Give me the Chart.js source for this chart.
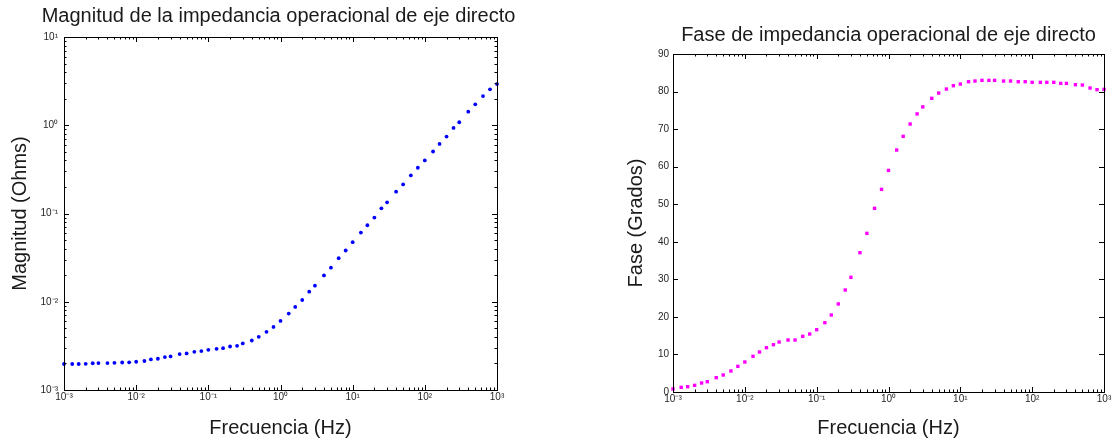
<!DOCTYPE html>
<html>
<head>
<meta charset="utf-8">
<script src="https://cdn.jsdelivr.net/npm/chart.js@4"></script>
<style>
  html, body { margin: 0; padding: 0; background: #fff; }
  #wrap { position: relative; width: 1114px; height: 444px; }
  canvas { position: absolute; top: 0; }
  #magChart { left: 0; }
  #phaseChart { left: 557px; }
</style>
</head>
<body>
<div id="wrap">
  <canvas id="magChart" width="557" height="444"></canvas>
  <canvas id="phaseChart" width="557" height="444"></canvas>
</div>
<script>
// ===========================================================================
// DATA
// ===========================================================================

// Frequencies in Hz, about 10 points per decade from 1 mHz to 1 kHz.
const frequencies = [
  0.001, 0.0013, 0.0016, 0.002, 0.0025, 0.003, 0.004, 0.005, 0.0064, 0.008,
  0.01, 0.013, 0.016, 0.02, 0.025, 0.03, 0.04, 0.05, 0.064, 0.08,
  0.1, 0.13, 0.16, 0.2, 0.25, 0.3, 0.4, 0.5, 0.64, 0.8,
  1, 1.3, 1.6, 2, 2.5, 3, 4, 5, 6.4, 8,
  10, 13, 16, 20, 25, 30, 40, 50, 64, 80,
  100, 130, 160, 200, 250, 300, 400, 500, 640, 800,
  1000
];

// Magnitude of the d-axis operational impedance (Ohms).
const magnitude = [
  0.00197, 0.00197, 0.00197, 0.00198, 0.00201, 0.00202, 0.00202, 0.00203, 0.00205, 0.00206,
  0.00209, 0.00213, 0.00222, 0.00226, 0.00236, 0.00240, 0.00255, 0.00260, 0.00271, 0.00276,
  0.00285, 0.00293, 0.00298, 0.00311, 0.00317, 0.00337, 0.00364, 0.00400, 0.00456, 0.00519,
  0.00607, 0.00734, 0.00873, 0.01047, 0.0130, 0.0152, 0.0199, 0.0243, 0.0312, 0.0381,
  0.0473, 0.0608, 0.0736, 0.0898, 0.1146, 0.1337, 0.1766, 0.2137, 0.270, 0.330,
  0.399, 0.504, 0.615, 0.744, 0.932, 1.081, 1.426, 1.725, 2.14, 2.55,
  2.93
];

// Phase of the d-axis operational impedance (degrees).
const phase = [
  0.80, 1.24, 1.42, 1.77, 2.40, 2.75, 3.82, 4.53, 5.59, 6.83,
  7.99, 9.50, 10.65, 11.80, 12.60, 13.31, 13.84, 13.84, 14.82, 15.44,
  16.59, 18.46, 20.50, 23.45, 27.16, 30.53, 37.10, 42.24, 48.90, 53.96,
  59.00, 64.43, 68.07, 71.35, 74.05, 75.92, 78.19, 79.60, 80.67, 81.56,
  82.00, 82.62, 82.80, 82.98, 82.98, 82.98, 82.80, 82.80, 82.62, 82.62,
  82.45, 82.45, 82.45, 82.45, 82.18, 82.18, 81.82, 81.74, 80.94, 80.50,
  80.58
];

// Axis limits and tick labels.
const freqRange = [0.001, 1000];
const magRange = [0.001, 10];
const phaseTicks = [0, 10, 20, 30, 40, 50, 60, 70, 80, 90];

// ===========================================================================
// SMALL HELPERS
// ===========================================================================

const FONT = "'Liberation Sans', Arial, sans-serif";
const SUP = { "-": "\u207B", "0": "\u2070", "1": "\u00B9", "2": "\u00B2", "3": "\u00B3" };

// Is this value an exact power of ten?
function isDecade(v) {
  const l = Math.log10(v);
  return Math.abs(l - Math.round(l)) < 1e-6;
}

// "10" followed by the exponent in superscript characters.
function decadeLabel(v) {
  if (!isDecade(v)) return "";
  const e = String(Math.round(Math.log10(v)));
  return "10" + e.split("").map((c) => SUP[c]).join("");
}

// Ticks 1..9 x 10^n between min and max, like a MATLAB log axis.
function logTicks(scale) {
  const ticks = [];
  const lo = Math.round(Math.log10(scale.min));
  const hi = Math.round(Math.log10(scale.max));
  for (let e = lo; e <= hi; e++) {
    for (let m = 1; m <= 9; m++) {
      const v = Number((m * Math.pow(10, e)).toPrecision(6));
      if (v >= scale.min * 0.999999 && v <= scale.max * 1.000001) ticks.push({ value: v });
    }
  }
  scale.ticks = ticks;
}

// Draw the box round the plot and the inward tick marks on all four sides.
const boxPlugin = {
  id: "boxTicks",
  afterDraw(chart) {
    const { ctx, chartArea: a, scales } = chart;
    ctx.save();
    ctx.strokeStyle = "#000";
    ctx.lineWidth = 1;
    ctx.beginPath();
    scales.x.ticks.forEach((t) => {
      const p = Math.round(scales.x.getPixelForValue(t.value)) + 0.5;
      const len = isDecade(t.value) ? 5 : 2.5;
      ctx.moveTo(p, a.bottom); ctx.lineTo(p, a.bottom - len);
      ctx.moveTo(p, a.top); ctx.lineTo(p, a.top + len);
    });
    const logY = scales.y.type === "logarithmic";
    scales.y.ticks.forEach((t) => {
      const p = Math.round(scales.y.getPixelForValue(t.value)) + 0.5;
      const len = !logY || isDecade(t.value) ? 5 : 2.5;
      ctx.moveTo(a.left, p); ctx.lineTo(a.left + len, p);
      ctx.moveTo(a.right, p); ctx.lineTo(a.right - len, p);
    });
    ctx.stroke();
    ctx.strokeRect(Math.round(a.left) + 0.5, Math.round(a.top) + 0.5,
      Math.round(a.right - a.left), Math.round(a.bottom - a.top));
    ctx.restore();
  },
};

// Options shared by both frequency axes.
function freqAxis(titlePadBottom) {
  return {
    type: "logarithmic",
    min: freqRange[0],
    max: freqRange[1],
    afterBuildTicks: logTicks,
    grid: { display: false, drawTicks: false },
    border: { display: false },
    ticks: {
      autoSkip: false, maxRotation: 0, minRotation: 0, padding: 1,
      color: "#262626", font: { family: FONT, size: 10 },
      callback: (v) => decadeLabel(v),
    },
    title: {
      display: true, text: "Frecuencia (Hz)", color: "#1a1a1a",
      font: { family: FONT, size: 20 }, padding: { top: 0, bottom: titlePadBottom },
    },
  };
}

// ===========================================================================
// LEFT CHART: magnitude
// ===========================================================================

const magXAxis = freqAxis(3.5);
magXAxis.afterFit = (s) => { s.height = 54; };

new Chart(document.getElementById("magChart"), {
  type: "scatter",
  data: {
    datasets: [{
      data: frequencies.map((f, i) => ({ x: f, y: magnitude[i] })),
      backgroundColor: "#0000ff",
      borderWidth: 0,
      pointRadius: 1.9,
      pointStyle: "circle",
      clip: false,
    }],
  },
  options: {
    responsive: false,
    animation: false,
    layout: { padding: 0 },
    plugins: {
      legend: { display: false },
      tooltip: { enabled: false },
      title: {
        display: true,
        text: "Magnitud de la impedancia operacional de eje directo",
        color: "#1a1a1a", font: { family: FONT, size: 20, weight: "normal" },
        padding: { top: 4, bottom: 9 },
      },
    },
    scales: {
      x: magXAxis,
      y: {
        type: "logarithmic",
        min: magRange[0],
        max: magRange[1],
        afterBuildTicks: logTicks,
        afterFit: (s) => { s.width = 64; },
        grid: { display: false, drawTicks: false },
        border: { display: false },
        ticks: {
          autoSkip: false, padding: 6,
          color: "#262626", font: { family: FONT, size: 10 },
          callback: (v) => decadeLabel(v),
        },
        title: {
          display: true, text: "Magnitud (Ohms)", color: "#1a1a1a",
          font: { family: FONT, size: 20 }, padding: { top: 8, bottom: 0 },
        },
      },
      // empty right-hand axis: only keeps the space right of the plot,
      // so the full-width title stays centred like in the original
      yPad: {
        type: "linear",
        position: "right",
        afterFit: (s) => { s.width = 60; },
        grid: { display: false, drawTicks: false },
        border: { display: false },
        ticks: { display: false },
      },
    },
  },
  plugins: [boxPlugin],
});

// ===========================================================================
// RIGHT CHART: phase
// ===========================================================================

const phaseXAxis = freqAxis(3.5);
phaseXAxis.afterFit = (s) => { s.height = 52; };

new Chart(document.getElementById("phaseChart"), {
  type: "scatter",
  data: {
    datasets: [{
      data: frequencies.map((f, i) => ({ x: f, y: phase[i] })),
      backgroundColor: "#ff00ff",
      borderWidth: 0,
      pointRadius: 2.4,
      pointStyle: "rect",
      clip: false,
    }],
  },
  options: {
    responsive: false,
    animation: false,
    layout: { padding: { left: 0, right: 10, top: 0, bottom: 0 } },
    plugins: {
      legend: { display: false },
      tooltip: { enabled: false },
      title: {
        display: true, fullSize: false,
        text: "Fase de impedancia operacional de eje directo",
        color: "#1a1a1a", font: { family: FONT, size: 20, weight: "normal" },
        padding: { top: 23.5, bottom: 6.5 },
      },
    },
    scales: {
      x: phaseXAxis,
      y: {
        type: "linear",
        min: phaseTicks[0],
        max: phaseTicks[phaseTicks.length - 1],
        afterBuildTicks: (s) => { s.ticks = phaseTicks.map((v) => ({ value: v })); },
        afterFit: (s) => { s.width = 116; },
        grid: { display: false, drawTicks: false },
        border: { display: false },
        ticks: {
          autoSkip: false, padding: 4,
          color: "#262626", font: { family: FONT, size: 10 },
        },
        title: {
          display: true, text: "Fase (Grados)", color: "#1a1a1a",
          font: { family: FONT, size: 20 }, padding: { top: 67, bottom: 0 },
        },
      },
    },
  },
  plugins: [boxPlugin],
});
</script>
</body>
</html>
